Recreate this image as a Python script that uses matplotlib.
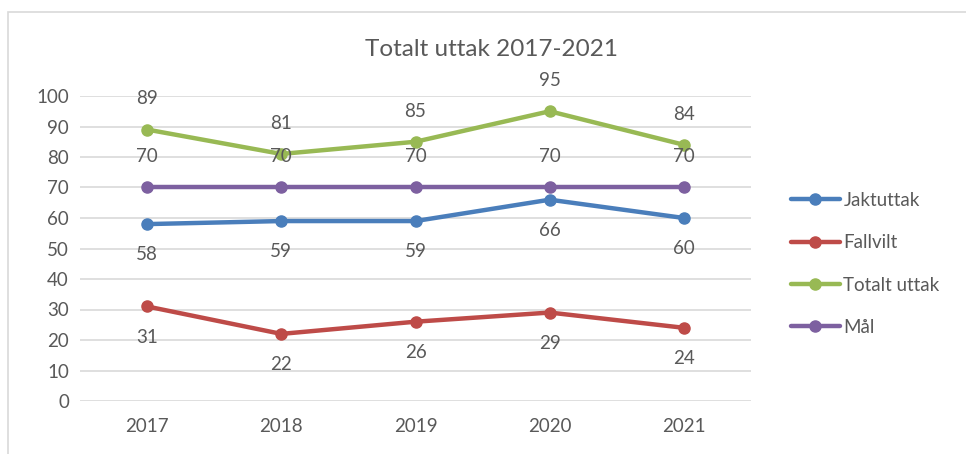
import matplotlib
matplotlib.use("Agg")
import matplotlib.pyplot as plt
from matplotlib.patches import Rectangle

years = ["2017", "2018", "2019", "2020", "2021"]
jaktuttak = [58, 59, 59, 66, 60]
fallvilt = [31, 22, 26, 29, 24]
totalt = [89, 81, 85, 95, 84]
mal = [70, 70, 70, 70, 70]

plt.rcParams['font.family'] = ['Lato', 'DejaVu Sans']
txt = '#595959'

fig = plt.figure(figsize=(9.66, 4.54), dpi=100)
ax = fig.add_axes([80/966, 1 - 401/454, 671/966, 305/454])

# outer chart border (cropped on right/bottom)
fig.patches.append(Rectangle((8/966, -0.1), 1.2, 1 - 12/454 + 0.1,
                             transform=fig.transFigure, fill=False,
                             edgecolor='#d9d9d9', linewidth=1.2))

series = [
    ("Jaktuttak", jaktuttak, '#4a7ebb', -1),
    ("Fallvilt", fallvilt, '#be4b48', -1),
    ("Totalt uttak", totalt, '#98b954', 1),
    ("Mål", mal, '#7d60a0', 1),
]
x = list(range(len(years)))
for name, vals, col, side in series:
    ax.plot(x, vals, color=col, linewidth=3.2, marker='o', markersize=8,
            label=name, solid_capstyle='round', zorder=3)
    for xi, v in zip(x, vals):
        ax.annotate(str(v), (xi, v), xytext=(0, 22 * side), textcoords='offset points',
                    ha='center', va='center', fontsize=13.5, color=txt)

ax.set_xlim(-0.5, 4.5)
ax.set_ylim(0, 100)
ax.set_yticks(range(0, 101, 10))
ax.set_xticks(x)
ax.set_xticklabels(years)
ax.grid(axis='y', color='#d9d9d9', linewidth=1.2)
ax.set_axisbelow(True)
for s in ax.spines.values():
    s.set_visible(False)
ax.tick_params(length=0, labelsize=13.5, colors=txt, pad=8)
ax.tick_params(axis='x', pad=12)

fig.text(491/966, 1 - 50/454, "Totalt uttak 2017-2021", ha='center', va='center',
         fontsize=17.5, color=txt)

ax.legend(loc='center left', bbox_to_anchor=(774/966, 1 - 264/454),
          bbox_transform=fig.transFigure, frameon=False, fontsize=13.5,
          labelcolor=txt, handlelength=2.6, handletextpad=0.2, labelspacing=1.35)

fig.savefig("out.png", dpi=100)
